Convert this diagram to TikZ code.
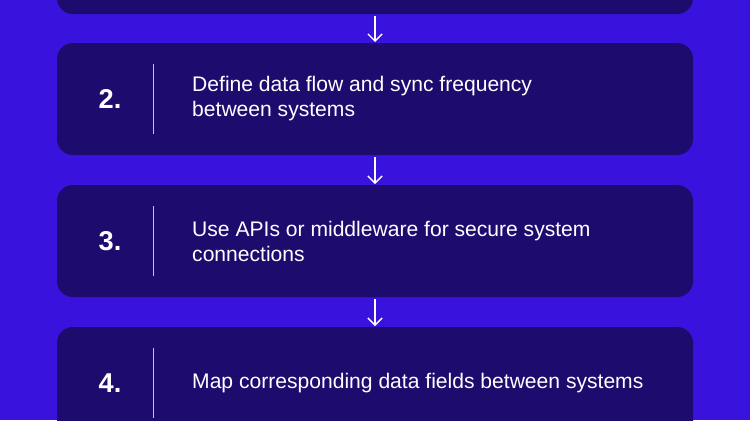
\documentclass[tikz,border=0pt]{standalone}
\usepackage{fontspec}
\setmainfont{Liberation Sans}
\usepackage{tikz}
\usetikzlibrary{arrows.meta}
\definecolor{bgblue}{HTML}{3A12DE}
\definecolor{boxnavy}{HTML}{1E0B6E}
\tikzset{
  stepbox/.style={fill=boxnavy, rounded corners=9pt},
  num/.style={text=white, font=\fontsize{15.5}{18}\selectfont\bfseries},
  desc/.style={text=white, anchor=west, align=left, font=\fontsize{12}{14.2}\selectfont},
  divider/.style={draw=white!75!boxnavy, line width=0.5pt},
  flow/.style={draw=white, line width=0.8pt, -{Straight Barb[length=4pt,width=8pt]}}
}
\begin{document}
\begin{tikzpicture}[x=0.02cm, y=-0.02cm]
	% background
	\fill[bgblue] (0,0) rectangle (750,420);
	\useasboundingbox (0,0) rectangle (750,420);

	% boxes
	\fill[stepbox] (57,-100) rectangle (693,14);
	\fill[stepbox] (57,43) rectangle (693,155);
	\fill[stepbox] (57,185) rectangle (693,297);
	\fill[stepbox] (57,327) rectangle (693,460);

	% numbers and dividers
	\foreach \n/\y in {2/99, 3/241, 4/383} {
		\node[num] (n\n) at (110,\y) {\n.};
		\draw[divider] (153,\y-35) -- (153,\y+35);
	}

	% texts
	\node[desc] (t2) at (186,99) {Define data flow and sync frequency\\between systems};
	\node[desc] (t3) at (186,241) {Use APIs or middleware for secure system\\connections};
	\node[desc] (t4) at (186,383) {Map corresponding data fields between systems};

	% arrows
	\coordinate (a1) at (375,16);  \coordinate (b1) at (375,42);
	\coordinate (a2) at (375,157); \coordinate (b2) at (375,184);
	\coordinate (a3) at (375,299); \coordinate (b3) at (375,326);
	\foreach \i in {1,2,3}
		\draw[flow] (a\i) -- (b\i);
\end{tikzpicture}
\end{document}
